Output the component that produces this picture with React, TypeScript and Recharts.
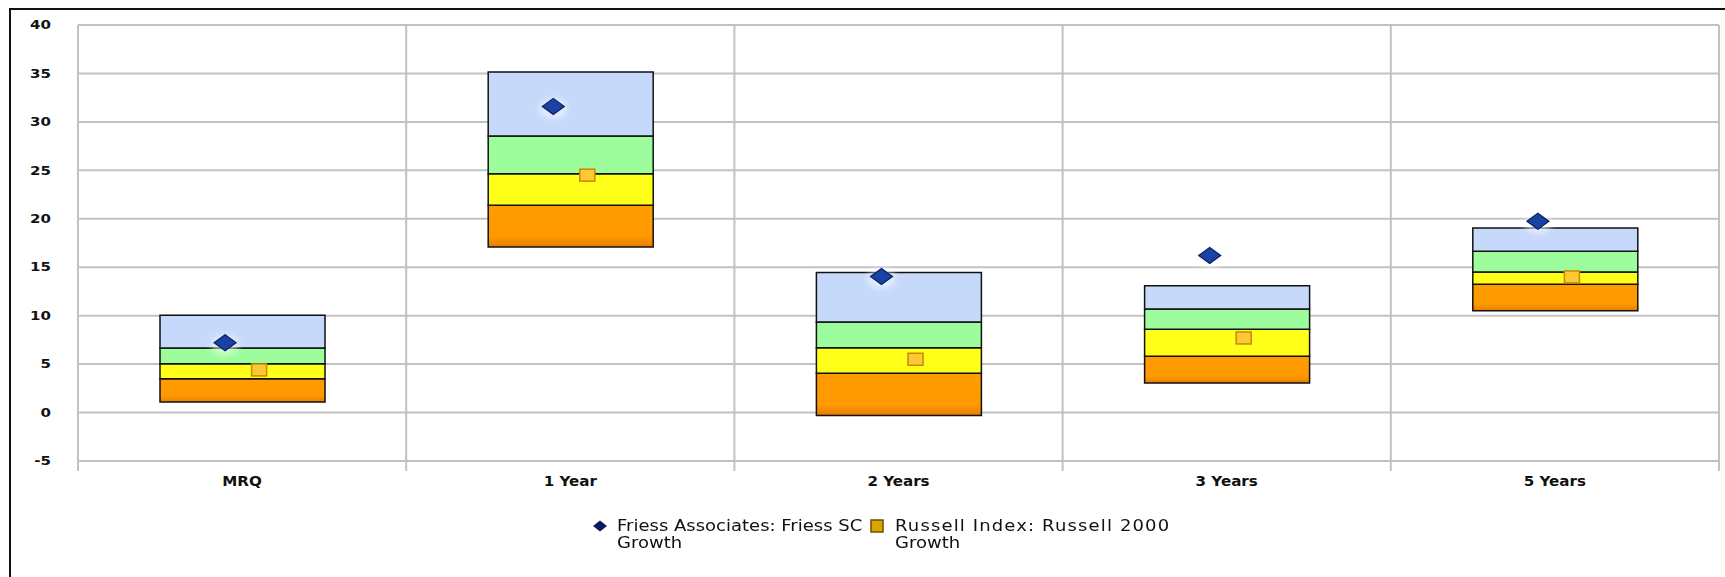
import React from 'react';
import { ComposedChart, Bar, Line, XAxis, YAxis, CartesianGrid, Legend } from 'recharts';

// Peer universe percentile boxes per period, with fund and index returns (%)
const periods = ['MRQ', '1 Year', '2 Years', '3 Years', '5 Years'];
const p05 = [1.1, 17.1, -0.3, 3.05, 10.5];
const p25 = [3.5, 21.4, 4.05, 5.8, 13.25];
const p50 = [5.05, 24.65, 6.7, 8.6, 14.5];
const p75 = [6.65, 28.55, 9.35, 10.7, 16.65];
const p95 = [10.05, 35.15, 14.45, 13.1, 19.05];
const friess = [7.2, 31.6, 14.05, 16.2, 19.75];
const russell = [4.4, 24.5, 5.5, 7.7, 14.0];

const yTicks = [-5, 0, 5, 10, 15, 20, 25, 30, 35, 40];

const FRIESS_LINES = ['Friess Associates: Friess SC', 'Growth'];
const RUSSELL_LINES = ['Russell Index: Russell 2000', 'Growth'];

const data = periods.map((period, i) => ({
  period,
  base: p05[i],
  low: p25[i] - p05[i],
  midLow: p50[i] - p25[i],
  midHigh: p75[i] - p50[i],
  high: p95[i] - p75[i],
  friess: friess[i],
  russell: russell[i],
}));

const FONT = '"DejaVu Sans", Verdana, sans-serif';
const GRID = '#c2c2c2';

// grid lines sit on category boundaries rather than centres
const boundaryLines = ({ offset }: any) =>
  [0, 1, 2, 3, 4, 5].map((i) => offset.left + (offset.width * i) / periods.length);

const YTick = ({ x, y, payload }: any) => (
  <text
    transform={`translate(${x},${y}) scale(1.25,1)`}
    textAnchor="end"
    dy="0.355em"
    fill="#111"
    fontFamily={FONT}
    fontSize={12}
    fontWeight="bold"
  >
    {payload.value}
  </text>
);

const XTick = ({ x, y, payload }: any) => (
  <text
    transform={`translate(${x},${y}) scale(1.08,1)`}
    textAnchor="middle"
    dy="0.71em"
    fill="#111"
    fontFamily={FONT}
    fontSize={14}
    fontWeight="bold"
  >
    {payload.value}
  </text>
);

const DiamondDot = (props: any) => {
  const { cx, cy, index } = props;
  if (cx == null || cy == null) return <g key={`d-${index}`} />;
  const x = cx - 17;
  return (
    <g key={`d-${index}`}>
      <ellipse cx={x} cy={cy + 2} rx={14} ry={10} fill="#ffffff" opacity={0.55} filter="url(#softGlow)" />
      <polygon
        points={`${x - 11},${cy} ${x},${cy - 8} ${x + 11},${cy} ${x},${cy + 8}`}
        fill="#1a42a4"
        stroke="#0a1f62"
        strokeWidth={1.2}
      />
    </g>
  );
};

const SquareDot = (props: any) => {
  const { cx, cy, index } = props;
  if (cx == null || cy == null) return <g key={`s-${index}`} />;
  const x = cx + 17;
  return (
    <rect
      key={`s-${index}`}
      x={x - 7.5}
      y={cy - 6}
      width={15}
      height={12}
      fill="#ffc836"
      stroke="#c48c00"
      strokeWidth={1.5}
    />
  );
};

const legendText: React.CSSProperties = {
  display: 'inline-block',
  transform: 'scaleX(1.2)',
  transformOrigin: 'left top',
  whiteSpace: 'nowrap',
};

const LegendContent = () => (
  <div
    style={{
      display: 'flex',
      paddingLeft: 592,
      paddingTop: 4,
      fontFamily: FONT,
      fontSize: 15,
      color: '#111',
      lineHeight: '16.5px',
    }}
  >
    <div style={{ display: 'flex', width: 277 }}>
      <svg width={16} height={16} style={{ flex: 'none', marginRight: 9 }}>
        <polygon points="1,8 8,2.5 15,8 8,13.5" fill="#0d1b5e" />
      </svg>
      <span style={legendText}>
        {FRIESS_LINES[0]}
        <br />
        {FRIESS_LINES[1]}
      </span>
    </div>
    <div style={{ display: 'flex' }}>
      <svg width={16} height={16} style={{ flex: 'none', marginRight: 10 }}>
        <rect x={2} y={2} width={12} height={12} fill="#d9a300" stroke="#6e5200" strokeWidth={1.5} />
      </svg>
      <span style={legendText}>
        <span style={{ letterSpacing: 0.95 }}>{RUSSELL_LINES[0]}</span>
        <br />
        {RUSSELL_LINES[1]}
      </span>
    </div>
  </div>
);

export default function App() {
  return (
    <div style={{ position: 'absolute', left: 0, top: 0, width: 1725, height: 577, background: '#fff' }}>
      <ComposedChart
        width={1725}
        height={577}
        data={data}
        margin={{ top: 25, right: 6, bottom: 23, left: 18 }}
        barCategoryGap={0}
      >
        <defs>
          <linearGradient id="orangeShade" x1="0" y1="0" x2="0" y2="1">
            <stop offset="0%" stopColor="#ff9c00" />
            <stop offset="75%" stopColor="#ff9900" />
            <stop offset="100%" stopColor="#e57d00" />
          </linearGradient>
          <filter id="softGlow" x="-50%" y="-50%" width="200%" height="200%">
            <feGaussianBlur stdDeviation="3" />
          </filter>
        </defs>
        <CartesianGrid
          stroke={GRID}
          strokeWidth={2}
          y={25}
          height={446}
          verticalCoordinatesGenerator={boundaryLines}
        />
        <XAxis
          dataKey="period"
          tickLine={false}
          axisLine={false}
          tickSize={0}
          tickMargin={15}
          height={53}
          interval={0}
          tick={XTick}
        />
        <YAxis
          domain={[-5, 40]}
          ticks={yTicks}
          width={60}
          axisLine={false}
          tickLine={false}
          tickSize={0}
          tickMargin={27}
          interval={0}
          tick={YTick}
        />
        <Bar dataKey="base" stackId="box" fill="transparent" barSize={165} isAnimationActive={false} />
        <Bar dataKey="low" stackId="box" fill="url(#orangeShade)" stroke="#111" strokeWidth={1.5} barSize={165} isAnimationActive={false} />
        <Bar dataKey="midLow" stackId="box" fill="#ffff1a" stroke="#111" strokeWidth={1.5} barSize={165} isAnimationActive={false} />
        <Bar dataKey="midHigh" stackId="box" fill="#9dfd9c" stroke="#111" strokeWidth={1.5} barSize={165} isAnimationActive={false} />
        <Bar dataKey="high" stackId="box" fill="#c6d9fb" stroke="#111" strokeWidth={1.5} barSize={165} isAnimationActive={false} />
        <Line
          dataKey="friess"
          name={FRIESS_LINES.join(' ')}
          stroke="none"
          dot={DiamondDot}
          activeDot={false}
          isAnimationActive={false}
        />
        <Line
          dataKey="russell"
          name={RUSSELL_LINES.join(' ')}
          stroke="none"
          dot={SquareDot}
          activeDot={false}
          isAnimationActive={false}
        />
        <Legend
          verticalAlign="bottom"
          content={LegendContent}
          wrapperStyle={{ left: 0, width: 1725, height: 40, bottom: 23 }}
        />
      </ComposedChart>
      <div
        style={{
          position: 'absolute',
          left: 9,
          top: 8,
          right: 0,
          bottom: 0,
          borderLeft: '2px solid #111',
          borderTop: '2px solid #111',
          pointerEvents: 'none',
        }}
      />
    </div>
  );
}
